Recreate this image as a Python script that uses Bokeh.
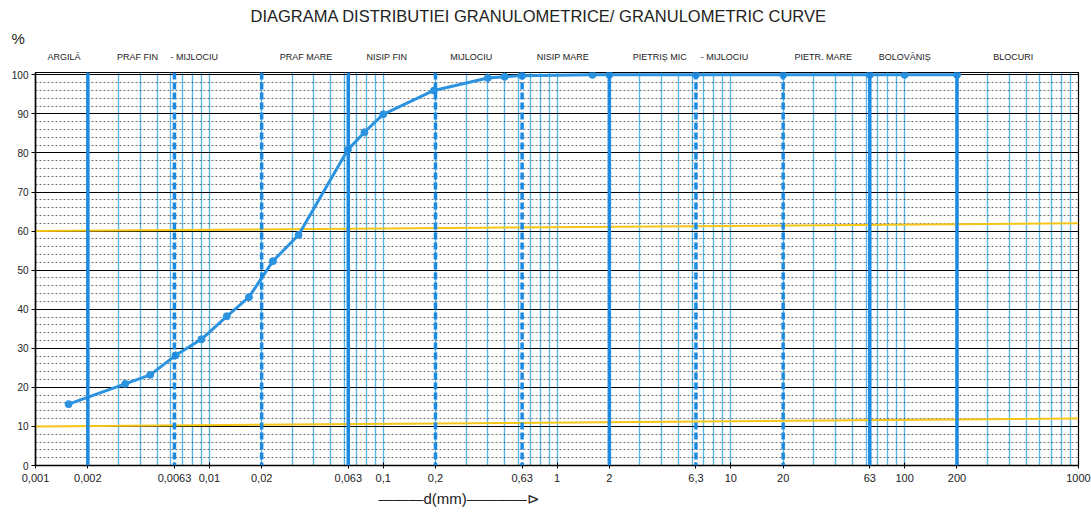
from bokeh.plotting import figure
from bokeh.models import (FixedTicker, LogAxis, Span, Range1d, Title)
from bokeh.embed import file_html
from bokeh.resources import INLINE

# ---- data ----
d_mm = [0.00155, 0.00328, 0.00457, 0.0064, 0.009, 0.0126, 0.0169, 0.0232, 0.0326,
        0.0626, 0.078, 0.1, 0.196, 0.4, 0.5, 0.63, 1.6, 2, 6.3, 20, 63, 100, 200]
passing = [15.7, 20.9, 23.2, 28.2, 32.3, 38.2, 43.1, 52.3, 59.0,
           80.8, 85.3, 89.9, 96.0, 99.2, 99.5, 99.8, 100, 100, 100, 100, 100, 100, 100]

x_ticks = [0.001, 0.002, 0.0063, 0.01, 0.02, 0.063, 0.1, 0.2, 0.63, 1, 2, 6.3, 10, 20, 63, 100, 200, 1000]
x_tick_labels = ["0,001", "0,002", "0,0063", "0,01", "0,02", "0,063", "0,1", "0,2", "0,63",
                 "1", "2", "6,3", "10", "20", "63", "100", "200", "1000"]
y_ticks = [0, 10, 20, 30, 40, 50, 60, 70, 80, 90, 100]
y_minor = [v for v in range(0, 101, 2) if v % 10]

zone_pos = [0.00146, 0.00386, 0.0082, 0.036, 0.105, 0.321, 1.08, 3.9, 9.2, 34, 100, 421]
zone_names = ["ARGILĂ", "PRAF FIN", "- MIJLOCIU", "PRAF MARE", "NISIP FIN", "MIJLOCIU",
              "NISIP MARE", "PIETRIȘ MIC", "- MIJLOCIU", "PIETR. MARE", "BOLOVĂNIȘ", "BLOCURI"]

boundaries = [0.002, 0.0063, 0.02, 0.063, 0.2, 0.63, 2, 6.3, 20, 63, 200]
boundary_dashed = [False, True, True, False, True, True, False, True, True, False, False]

decades = [0.001, 0.01, 0.1, 1, 10, 100]
log_minor = [round(m * dec, 6) for dec in decades for m in range(1, 10)] + [1000]

x_limits = [0.001, 1000]
yellow_upper = [60, 62]
yellow_lower = [10, 12]

FONT = "Liberation Sans"
BLUE = "#2b93df"
LIGHT = "#5db8ea"
INK = "#222222"

p = figure(width=1091, height=510, x_axis_type="log", title=None,
           x_range=Range1d(*x_limits), y_range=Range1d(0, 100.6),
           output_backend="svg", toolbar_location=None,
           min_border_left=35, min_border_right=13, min_border_top=72, min_border_bottom=45)

p.outline_line_color = "black"
p.outline_line_width = 1.2

# axes
p.xaxis.ticker = FixedTicker(ticks=x_ticks)
p.xaxis.major_label_overrides = {t: l for t, l in zip(x_ticks, x_tick_labels)}
p.xaxis.major_label_text_font = FONT
p.xaxis.major_label_text_font_size = "11px"
p.xaxis.major_label_text_color = INK
p.xaxis.major_tick_in = 3
p.xaxis.major_tick_out = 3
p.xaxis.minor_tick_line_color = None
p.xaxis.axis_line_color = "black"
p.xaxis.axis_line_width = 1.5

p.yaxis.ticker = FixedTicker(ticks=y_ticks, minor_ticks=y_minor)
p.yaxis.major_label_text_font = FONT
p.yaxis.major_label_text_font_size = "10px"
p.yaxis.major_label_text_color = INK
p.yaxis.minor_tick_line_color = None
p.yaxis.major_tick_out = 4
p.yaxis.major_tick_in = 0
p.yaxis.axis_line_color = "black"
p.yaxis.axis_line_width = 1.5
p.yaxis.major_label_standoff = 3

# zone names (top axis), then "%" and the main title stacked above it
top_axis = LogAxis(ticker=FixedTicker(ticks=zone_pos),
                   major_label_overrides={t: l for t, l in zip(zone_pos, zone_names)},
                   major_label_text_font=FONT, major_label_text_font_size="9px",
                   major_label_text_color=INK, major_tick_line_color=None,
                   minor_tick_line_color=None, axis_line_color=None,
                   major_label_standoff=5)
p.add_layout(top_axis, "above")
p.add_layout(Title(text="%", text_font=FONT, text_font_size="15px", text_font_style="normal",
                   text_color=INK, align="left", offset=-24, standoff=4), "above")
p.add_layout(Title(text="DIAGRAMA DISTRIBUTIEI GRANULOMETRICE/ GRANULOMETRIC CURVE",
                   text_font=FONT, text_font_size="16.5px", text_font_style="normal",
                   text_color=INK, align="left", offset=215, standoff=2), "above")
p.add_layout(Title(text="———d(mm)————⊳", text_font=FONT, text_font_size="15px",
                   text_font_style="normal", text_color=INK, align="left", offset=343,
                   standoff=6), "below")

# grids
p.xgrid.ticker = FixedTicker(ticks=log_minor)
p.xgrid.grid_line_color = LIGHT
p.xgrid.grid_line_width = 1.4
p.ygrid.grid_line_color = "black"
p.ygrid.grid_line_width = 1
p.ygrid.minor_grid_line_color = "black"
p.ygrid.minor_grid_line_alpha = 0.55
p.ygrid.minor_grid_line_dash = "2 2"
p.ygrid.minor_grid_line_width = 1

for b, dashed in zip(boundaries, boundary_dashed):
    p.add_layout(Span(location=b, dimension="height", line_color="#1d8ae2",
                      line_width=3.5, line_dash="7 3" if dashed else "solid"))

# yellow reference lines
p.line(x_limits, yellow_upper, line_color="#f5c518", line_width=2)
p.line(x_limits, yellow_lower, line_color="#f5c518", line_width=2)

# curve
p.line(d_mm, passing, line_color=BLUE, line_width=3)
p.scatter(d_mm, passing, size=7, fill_color=BLUE, line_color=BLUE)

open("out.html", "w").write(file_html(p, INLINE))
